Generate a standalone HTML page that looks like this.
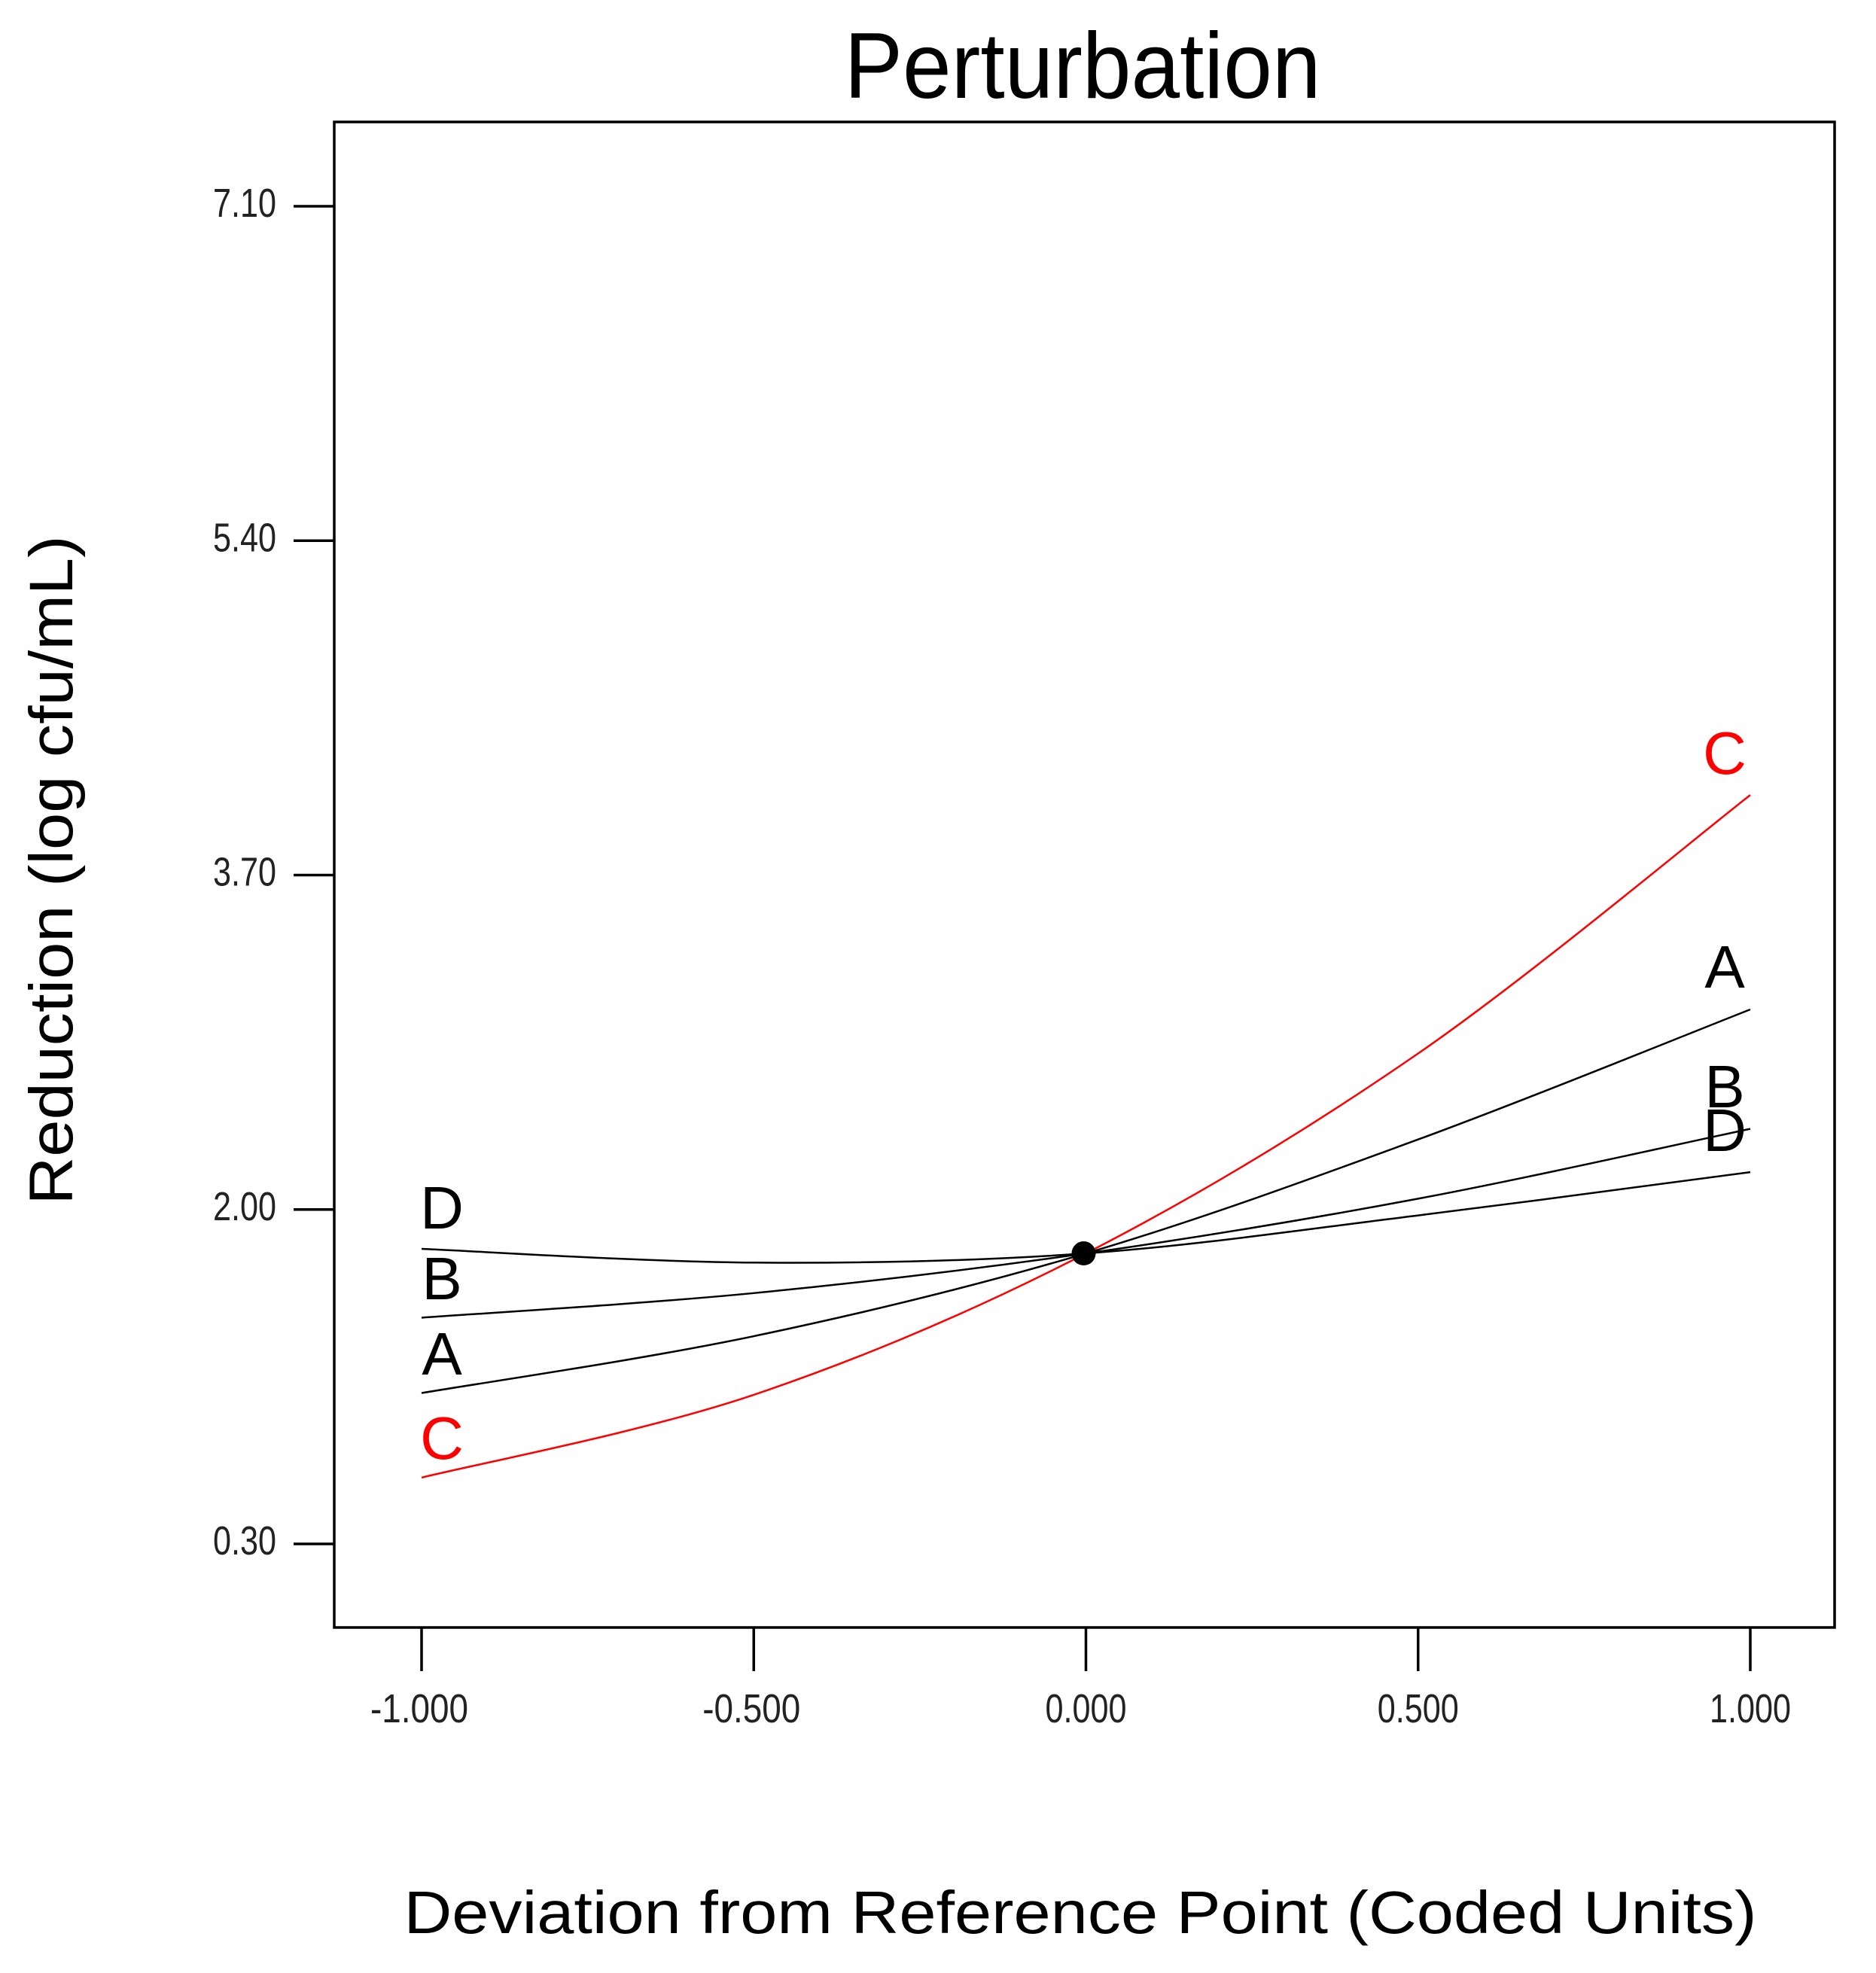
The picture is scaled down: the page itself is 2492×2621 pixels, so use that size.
<!DOCTYPE html>
<html><head><meta charset="utf-8"><style>
html,body{margin:0;padding:0;background:#fff;}
svg{display:block;}
</style></head><body>
<svg id="chart" width="2492" height="2621" viewBox="0 0 2492 2621" xmlns="http://www.w3.org/2000/svg" font-family="'Liberation Sans', Arial, sans-serif">
<rect x="0" y="0" width="2492" height="2621" fill="#fff"/>
<text x="1438" y="130" font-size="124" text-anchor="middle" textLength="633" lengthAdjust="spacingAndGlyphs">Perturbation</text>
<rect x="444" y="162" width="1993" height="2000" fill="none" stroke="#000" stroke-width="3.5"/>
<g id="yticks"></g>
<g id="xticks"></g>
<g id="series"></g>
<text transform="translate(96,1156) rotate(-90)" font-size="82" text-anchor="middle" textLength="889" lengthAdjust="spacingAndGlyphs">Reduction (log cfu/mL)</text>
<text x="1435" y="2568" font-size="80" text-anchor="middle" textLength="1797" lengthAdjust="spacingAndGlyphs">Deviation from Reference Point (Coded Units)</text>
</svg>
<script>
const yTicks = [0.30, 2.00, 3.70, 5.40, 7.10];
const yTickLabels = ["0.30", "2.00", "3.70", "5.40", "7.10"];
const xTicks = [-1, -0.5, 0, 0.5, 1];
const xTickLabels = ["-1.000", "-0.500", "0.000", "0.500", "1.000"];
const xSamples = [-1, -0.5, 0, 0.5, 1];
const seriesA = [1.067, 1.356, 1.777, 2.356, 3.017];
const seriesB = [1.450, 1.575, 1.777, 2.055, 2.410];
const seriesC = [0.637, 1.058, 1.777, 2.793, 4.107];
const seriesD = [1.800, 1.730, 1.777, 1.970, 2.190];
const refPoint = [0, 1.777];

const NS = "http://www.w3.org/2000/svg";
function xs(v){ return 1442.5 + v * 882.5; }
function ys(v){ return 2051 - (v - 0.30) * (1777 / 6.8); }
function mk(tag, attrs, parent){
  const e = document.createElementNS(NS, tag);
  for (const k in attrs) e.setAttribute(k, attrs[k]);
  parent.appendChild(e);
  return e;
}
const gy = document.getElementById('yticks');
yTicks.forEach((v, i) => {
  const l = mk('line', {x1: 390, x2: 444, y1: ys(v), y2: ys(v), stroke: '#000', 'stroke-width': 3.5}, gy);
  
  
  const t = mk('text', {x: 367, y: ys(v) + 14, 'font-size': 54, 'text-anchor': 'end', fill: '#222', textLength: 84, lengthAdjust: 'spacingAndGlyphs'}, gy);
  t.textContent = yTickLabels[i];
  
  
});
const gx = document.getElementById('xticks');
xTicks.forEach((v, i) => {
  const l = mk('line', {x1: xs(v), x2: xs(v), y1: 2162, y2: 2220, stroke: '#000', 'stroke-width': 3.5}, gx);
  
  
  const lab = xTickLabels[i];
  const t = mk('text', {x: xs(v) + (lab[0] === '-' ? -3 : 0), y: 2288, 'font-size': 54, 'text-anchor': 'middle', fill: '#222', textLength: lab[0] === '-' ? 130 : 108, lengthAdjust: 'spacingAndGlyphs'}, gx);
  t.textContent = lab;
  
  
});
function pathFor(vals){
  const pts = xSamples.map((x, i) => [xs(x), ys(vals[i])]);
  let d = 'M' + pts[0][0] + ',' + pts[0][1];
  const tension = 6;
  for (let i = 0; i < pts.length - 1; i++){
    const p0 = pts[Math.max(0, i - 1)], p1 = pts[i], p2 = pts[i + 1], p3 = pts[Math.min(pts.length - 1, i + 2)];
    const c1 = [p1[0] + (p2[0] - p0[0]) / tension, p1[1] + (p2[1] - p0[1]) / tension];
    const c2 = [p2[0] - (p3[0] - p1[0]) / tension, p2[1] - (p3[1] - p1[1]) / tension];
    d += ' C' + c1[0] + ',' + c1[1] + ' ' + c2[0] + ',' + c2[1] + ' ' + p2[0] + ',' + p2[1];
  }
  return d;
}
const gs = document.getElementById('series');
const defs = [
  {vals: seriesD, name: 'D', color: '#000', l: [1603], r: [1500]},
  {vals: seriesB, name: 'B', color: '#000', l: [1697], r: [1442]},
  {vals: seriesA, name: 'A', color: '#000', l: [1797], r: [1283]},
  {vals: seriesC, name: 'C', color: '#f00', l: [1909], r: [999]}
];
defs.forEach(s => {
  const p = mk('path', {d: pathFor(s.vals), fill: 'none', stroke: s.color, 'stroke-width': 2.5}, gs);
  
  
  const tl = mk('text', {x: 587, y: s.l[0] + 29, 'font-size': 80, 'text-anchor': 'middle', fill: s.color}, gs);
  tl.textContent = s.name;
  
  
  const tr = mk('text', {x: 2291, y: s.r[0] + 29, 'font-size': 80, 'text-anchor': 'middle', fill: s.color}, gs);
  tr.textContent = s.name;
  
  
});
const dot = mk('circle', {cx: xs(refPoint[0]) - 3, cy: ys(refPoint[1]), r: 16, fill: '#000'}, gs);


</script>
</body></html>
